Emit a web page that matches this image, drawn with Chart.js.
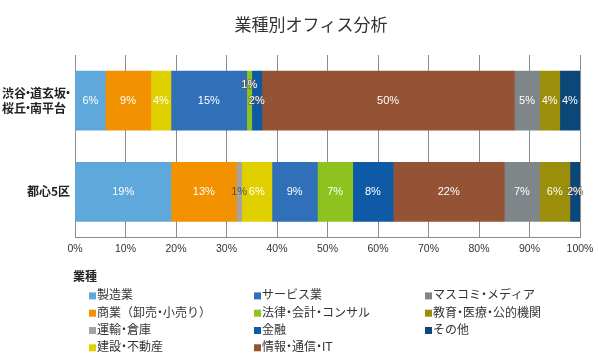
<!DOCTYPE html>
<html>
<head>
<meta charset="utf-8">
<script src="https://cdn.jsdelivr.net/npm/chart.js@4/dist/chart.umd.min.js"></script>
<style>
  html, body { margin: 0; padding: 0; background: #fff; }
  #wrap { width: 598px; height: 361px; }
</style>
</head>
<body>
<div id="wrap"><canvas id="chart"></canvas></div>
<script>
// categories (rows) and one array per industry, values in %
var categories = [['渋谷・道玄坂・', '桜丘・南平台'], '都心5区'];
var seriesNames = ['製造業', '商業（卸売・小売り）', '運輸・倉庫', '建設・不動産',
    'サービス業', '法律・会計・コンサル', '金融', '情報・通信・IT',
    'マスコミ・メディア', '教育・医療・公的機関', 'その他'];
var manufacturing = [6, 19];
var commerce = [9, 13];
var transport = [0, 1];
var construction = [4, 6];
var services = [15, 9];
var legal = [1, 7];
var finance = [2, 8];
var infoTech = [50, 22];
var media = [5, 7];
var education = [4, 6];
var other = [4, 2];
var xTicks = [0, 10, 20, 30, 40, 50, 60, 70, 80, 90, 100];

var seriesValues = [manufacturing, commerce, transport, construction, services,
    legal, finance, infoTech, media, education, other];
var colors = ['#5fa8dc', '#f39200', '#a3a3a3', '#e0d000', '#2f70b9', '#8dc21f',
    '#0f5aa6', '#955335', '#7f8689', '#9b8e0b', '#0b4778'];

var jaFont = "'Noto Sans CJK JP', sans-serif";
var numFont = "'Liberation Sans', 'Noto Sans CJK JP', sans-serif";

// draws text where the middle dot takes a narrow slot, like the original typesetting
function tightText(ctx, s, x, y, dotW, draw) {
    var parts = s.split('・');
    var cx = x;
    for (var k = 0; k < parts.length; k++) {
        if (draw) { ctx.textAlign = 'left'; ctx.fillText(parts[k], cx, y); }
        cx += ctx.measureText(parts[k]).width;
        if (k < parts.length - 1) {
            if (draw) { ctx.textAlign = 'center'; ctx.fillText('・', cx + dotW / 2, y); }
            cx += dotW;
        }
    }
    return cx - x;
}

// label tweaks for the thin segments: key = dataset,index
var labelStyle = {
    '5,0': {dy: -16, stroke: true},
    '6,0': {stroke: true},
    '2,1': {color: '#555'},
    '10,1': {stroke: true}
};

var barLabels = {
    id: 'barLabels',
    afterDatasetsDraw: function (chart) {
        var ctx = chart.ctx;
        ctx.save();
        ctx.font = '11px ' + numFont;
        ctx.textAlign = 'center';
        ctx.textBaseline = 'middle';
        chart.data.datasets.forEach(function (ds, i) {
            chart.getDatasetMeta(i).data.forEach(function (bar, j) {
                var v = ds.data[j];
                if (!v) return;
                var st = labelStyle[i + ',' + j] || {};
                var x = bar.x - (bar.x - bar.base) / 2;
                var y = bar.y + (st.dy || 0);
                var txt = v + '%';
                if (st.stroke) {
                    ctx.lineWidth = 1.5;
                    ctx.strokeStyle = 'rgba(90,90,90,0.8)';
                    ctx.strokeText(txt, x, y);
                }
                ctx.fillStyle = st.color || '#fff';
                ctx.fillText(txt, x, y);
            });
        });
        ctx.restore();
    }
};

var rowLabels = {
    id: 'rowLabels',
    afterDraw: function (chart) {
        var ctx = chart.ctx;
        var yScale = chart.scales.y;
        ctx.save();
        ctx.font = 'bold 12px ' + jaFont;
        ctx.fillStyle = '#222';
        ctx.textBaseline = 'middle';
        chart.data.labels.forEach(function (lab, j) {
            var lines = Array.isArray(lab) ? lab : [lab];
            var w = 0;
            lines.forEach(function (l) { w = Math.max(w, tightText(ctx, l, 0, 0, 4, false)); });
            var left = 70 - w;
            var cy = yScale.getPixelForValue(j);
            lines.forEach(function (l, k) {
                var y = cy + (k - (lines.length - 1) / 2) * 15;
                tightText(ctx, l, left, y, 4, true);
            });
        });
        ctx.restore();
    }
};

var gridLegend = {
    id: 'gridLegend',
    afterDraw: function (chart) {
        var ctx = chart.ctx;
        var top = chart.chartArea.bottom + 39;
        var colX = [89, 254, 425];
        ctx.save();
        ctx.textBaseline = 'middle';
        ctx.fillStyle = '#222';
        ctx.font = 'bold 12px ' + jaFont;
        ctx.textAlign = 'left';
        ctx.fillText('業種', 73, top);
        ctx.font = '12px ' + numFont;
        chart.data.datasets.forEach(function (ds, i) {
            var col = Math.floor(i / 4), row = i % 4;
            var x = colX[col];
            var y = top + 19.5 + row * 17.3;
            ctx.fillStyle = ds.backgroundColor;
            ctx.fillRect(x, y - 3.5, 7, 7);
            ctx.fillStyle = '#333';
            tightText(ctx, ds.label, x + 8, y, 6, true);
        });
        ctx.restore();
    }
};

var datasets = seriesNames.map(function (name, i) {
    return {
        label: name,
        data: seriesValues[i],
        backgroundColor: colors[i],
        borderWidth: 0,
        barThickness: 59
    };
});

new Chart(document.getElementById('chart'), {
    type: 'bar',
    data: { labels: categories, datasets: datasets },
    options: {
        indexAxis: 'y',
        responsive: true,
        maintainAspectRatio: false,
        animation: false,
        layout: { padding: { left: 42, right: 18, top: 0, bottom: 100 } },
        plugins: {
            legend: { display: false },
            tooltip: { enabled: false },
            title: {
                display: true,
                text: '業種別オフィス分析',
                color: '#333',
                font: { family: jaFont, size: 17, weight: 'normal' },
                padding: { top: 14, bottom: 20.6 }
            }
        },
        scales: {
            x: {
                stacked: true,
                min: 0,
                max: 100,
                afterBuildTicks: function (scale) {
                    scale.ticks = xTicks.map(function (v) { return { value: v }; });
                },
                afterFit: function (scale) { scale.paddingLeft = 0; scale.paddingRight = 0; },
                ticks: {
                    color: '#333',
                    padding: 5.5,
                    font: { family: numFont, size: 10.5 },
                    callback: function (v) { return v + '%'; }
                },
                grid: { color: '#8c8c8c', lineWidth: 1, drawTicks: false },
                border: { display: true, color: '#8c8c8c', width: 1 }
            },
            y: {
                stacked: true,
                ticks: { display: false },
                grid: { display: false },
                border: { display: false },
                afterFit: function (scale) { scale.width = 33; }
            }
        }
    },
    plugins: [barLabels, rowLabels, gridLegend]
});
</script>
</body>
</html>
